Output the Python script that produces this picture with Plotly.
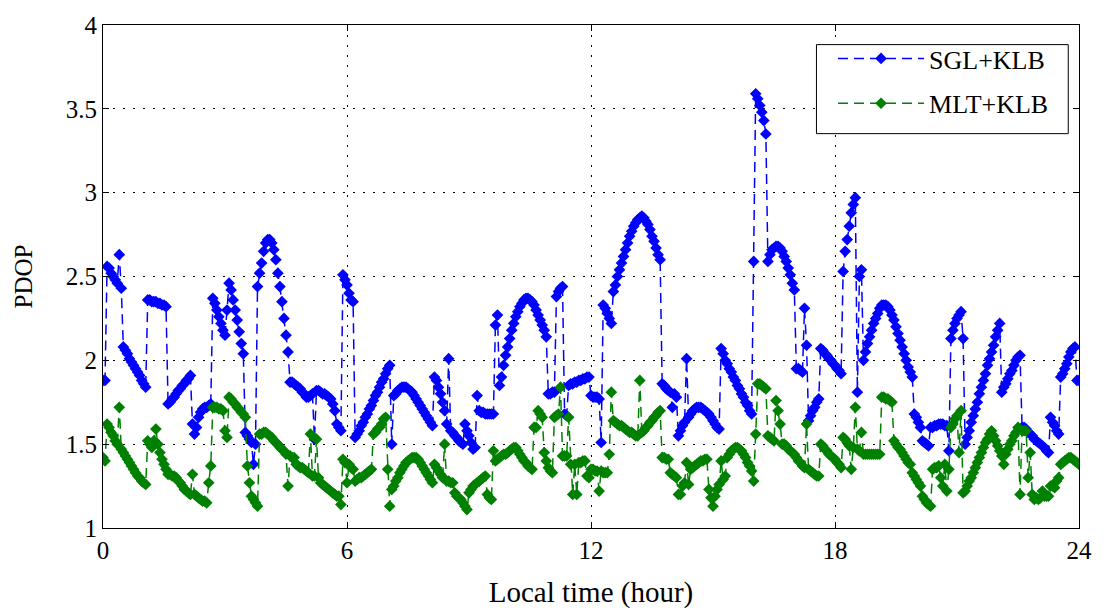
import plotly.graph_objects as go

# Sampling grid: every 0.05 hour (3 min) over a day -> 481 samples
HOURS = [round(i * 0.05, 2) for i in range(481)]

# PDOP; one row per hour (h.00, h.05, ..., h.95), final value at 24.00
SGL_KLB = [
    1.88, 1.88, 2.56, 2.55, 2.52, 2.50, 2.48, 2.46, 2.63, 2.43, 2.08, 2.06, 2.04, 2.01, 1.99, 1.97, 1.95, 1.93, 1.91, 1.88,  # 0
    1.86, 1.84, 2.36, 2.36, 2.35, 2.35, 2.35, 2.34, 2.34, 2.33, 2.33, 2.32, 1.74, 1.75, 1.77, 1.78, 1.80, 1.82, 1.83, 1.85,  # 1
    1.86, 1.88, 1.89, 1.91, 1.62, 1.56, 1.60, 1.66, 1.69, 1.71, 1.72, 1.72, 1.73, 1.74, 2.37, 2.34, 2.30, 2.26, 2.22, 2.18,  # 2
    2.15, 2.30, 2.46, 2.42, 2.36, 2.30, 2.24, 2.17, 2.10, 2.04, 1.57, 1.55, 1.53, 1.51, 1.38, 1.50, 2.44, 2.52, 2.58, 2.65,  # 3
    2.70, 2.72, 2.72, 2.70, 2.66, 2.60, 2.52, 2.44, 2.35, 2.25, 2.15, 2.05, 1.87, 1.87, 1.86, 1.85, 1.84, 1.83, 1.81, 1.80,  # 4
    1.78, 1.78, 1.79, 1.80, 1.53, 1.82, 1.82, 1.81, 1.80, 1.80, 1.79, 1.78, 1.77, 1.74, 1.70, 1.62, 1.60, 1.58, 2.51, 2.48,  # 5
    2.45, 2.40, 2.36, 2.35, 1.54, 1.56, 1.58, 1.61, 1.63, 1.66, 1.68, 1.71, 1.73, 1.76, 1.79, 1.81, 1.84, 1.87, 1.89, 1.92,  # 6
    1.95, 1.97, 1.50, 1.79, 1.80, 1.82, 1.83, 1.84, 1.84, 1.84, 1.83, 1.82, 1.81, 1.79, 1.77, 1.75, 1.73, 1.71, 1.69, 1.67,  # 7
    1.65, 1.63, 1.61, 1.90, 1.88, 1.84, 1.80, 1.75, 1.70, 1.62, 2.01, 1.58, 1.57, 1.55, 1.54, 1.52, 1.51, 1.50, 1.62, 1.58,  # 8
    1.55, 1.51, 1.47, 1.48, 1.79, 1.70, 1.69, 1.69, 1.68, 1.68, 1.68, 1.68, 1.68, 2.21, 2.27, 1.85, 1.90, 1.97, 2.03, 2.08,  # 9
    2.13, 2.18, 2.22, 2.26, 2.29, 2.32, 2.34, 2.36, 2.37, 2.37, 2.36, 2.35, 2.33, 2.30, 2.27, 2.24, 2.21, 2.18, 2.14, 1.80,  # 10
    1.80, 1.81, 1.81, 2.38, 2.41, 2.43, 2.44, 1.68, 1.67, 1.85, 1.86, 1.86, 1.87, 1.87, 1.88, 1.88, 1.89, 1.89, 1.90, 1.90,  # 11
    1.79, 1.78, 1.78, 1.78, 1.77, 1.51, 2.33, 2.31, 2.28, 2.25, 2.22, 2.41, 2.45, 2.50, 2.54, 2.58, 2.62, 2.66, 2.70, 2.74,  # 12
    2.77, 2.80, 2.82, 2.84, 2.85, 2.86, 2.85, 2.83, 2.81, 2.78, 2.74, 2.71, 2.67, 2.63, 2.60, 1.86, 1.85, 1.83, 1.82, 1.81,  # 13
    1.72, 1.80, 1.78, 1.55, 1.58, 1.61, 1.63, 2.01, 1.66, 1.68, 1.70, 1.71, 1.72, 1.72, 1.72, 1.71, 1.70, 1.69, 1.68, 1.66,  # 14
    1.64, 1.62, 1.60, 1.59, 2.07, 2.04, 2.00, 1.98, 1.95, 1.93, 1.90, 1.88, 1.85, 1.83, 1.80, 1.78, 1.75, 1.73, 1.70, 1.68,  # 15
    2.59, 3.59, 3.56, 3.52, 3.48, 3.43, 3.35, 2.59, 2.63, 2.66, 2.67, 2.68, 2.68, 2.67, 2.65, 2.62, 2.59, 2.55, 2.51, 2.46,  # 16
    2.42, 1.95, 1.95, 1.94, 1.93, 2.31, 2.09, 1.64, 1.67, 1.70, 1.72, 1.75, 1.77, 2.07, 2.06, 2.04, 2.03, 2.01, 2.00, 1.98,  # 17
    1.97, 1.95, 1.94, 1.92, 2.53, 2.65, 2.72, 2.80, 2.88, 2.93, 2.97, 1.81, 2.50, 2.54, 2.00, 2.05, 2.10, 2.14, 2.18, 2.22,  # 18
    2.25, 2.28, 2.31, 2.33, 2.33, 2.33, 2.32, 2.30, 2.27, 2.24, 2.20, 2.16, 2.12, 2.08, 2.04, 2.00, 1.96, 1.93, 1.90, 1.68,  # 19
    1.66, 1.63, 1.60, 1.52, 1.51, 1.50, 1.49, 1.60, 1.60, 1.61, 1.61, 1.62, 1.62, 1.62, 1.61, 1.61, 1.46, 2.13, 2.18, 2.22,  # 20
    2.25, 2.27, 2.29, 2.13, 1.50, 1.54, 1.58, 1.63, 1.67, 1.71, 1.75, 1.80, 1.84, 1.88, 1.92, 1.97, 2.01, 2.05, 2.09, 2.14,  # 21
    2.18, 2.22, 1.81, 1.84, 1.86, 1.89, 1.92, 1.94, 1.97, 2.00, 2.02, 2.03, 1.60, 1.60, 1.59, 1.57, 1.56, 1.55, 1.53, 1.52,  # 22
    1.51, 1.50, 1.49, 1.48, 1.46, 1.45, 1.66, 1.63, 1.61, 1.58, 1.56, 1.90, 1.92, 1.95, 1.98, 2.02, 2.05, 2.07, 2.08, 1.88,  # 23
    1.88,
]

MLT_KLB = [
    1.42, 1.40, 1.62, 1.60, 1.57, 1.55, 1.52, 1.50, 1.72, 1.47, 1.45, 1.43, 1.41, 1.39, 1.37, 1.35, 1.33, 1.31, 1.30, 1.28,  # 0
    1.27, 1.26, 1.52, 1.50, 1.48, 1.52, 1.59, 1.50, 1.45, 1.41, 1.38, 1.35, 1.32, 1.32, 1.31, 1.31, 1.30, 1.28, 1.27, 1.25,  # 1
    1.23, 1.22, 1.21, 1.20, 1.32, 1.20, 1.19, 1.18, 1.17, 1.16, 1.16, 1.15, 1.27, 1.37, 1.72, 1.72, 1.72, 1.71, 1.71, 1.70,  # 2
    1.58, 1.54, 1.78, 1.77, 1.75, 1.74, 1.72, 1.71, 1.69, 1.68, 1.66, 1.37, 1.27, 1.19, 1.17, 1.15, 1.13, 1.56, 1.56, 1.57,  # 3
    1.57, 1.56, 1.55, 1.54, 1.52, 1.51, 1.50, 1.48, 1.47, 1.46, 1.44, 1.25, 1.43, 1.42, 1.42, 1.38, 1.37, 1.36, 1.36, 1.35,  # 4
    1.34, 1.33, 1.56, 1.31, 1.31, 1.53, 1.30, 1.27, 1.26, 1.25, 1.24, 1.23, 1.22, 1.21, 1.20, 1.19, 1.19, 1.14, 1.41, 1.39,  # 5
    1.27, 1.38, 1.36, 1.35, 1.28, 1.29, 1.30, 1.30, 1.31, 1.32, 1.33, 1.34, 1.35, 1.56, 1.57, 1.59, 1.60, 1.62, 1.65, 1.66,  # 6
    1.35, 1.13, 1.23, 1.25, 1.28, 1.30, 1.33, 1.35, 1.37, 1.39, 1.40, 1.41, 1.42, 1.42, 1.42, 1.41, 1.39, 1.37, 1.35, 1.33,  # 7
    1.31, 1.29, 1.27, 1.38, 1.36, 1.34, 1.32, 1.30, 1.50, 1.28, 1.28, 1.27, 1.27, 1.21, 1.19, 1.18, 1.17, 1.15, 1.13, 1.11,  # 8
    1.21, 1.23, 1.25, 1.26, 1.27, 1.28, 1.29, 1.30, 1.31, 1.20, 1.18, 1.17, 1.46, 1.40, 1.41, 1.42, 1.43, 1.44, 1.44, 1.45,  # 9
    1.46, 1.47, 1.48, 1.48, 1.46, 1.44, 1.42, 1.40, 1.39, 1.37, 1.36, 1.35, 1.60, 1.60, 1.70, 1.68, 1.66, 1.45, 1.40, 1.36,  # 10
    1.34, 1.33, 1.66, 1.67, 1.68, 1.84, 1.43, 1.43, 1.43, 1.66, 1.38, 1.20, 1.38, 1.20, 1.39, 1.39, 1.40, 1.40, 1.31, 1.30,  # 11
    1.35, 1.35, 1.34, 1.34, 1.22, 1.34, 1.33, 1.33, 1.33, 1.44, 1.81, 1.64, 1.63, 1.62, 1.61, 1.61, 1.60, 1.59, 1.58, 1.57,  # 12
    1.57, 1.56, 1.55, 1.55, 1.88, 1.57, 1.58, 1.60, 1.61, 1.63, 1.64, 1.66, 1.67, 1.69, 1.70, 1.42, 1.42, 1.41, 1.41, 1.33,  # 13
    1.32, 1.31, 1.30, 1.20, 1.20, 1.25, 1.27, 1.39, 1.26, 1.35, 1.36, 1.37, 1.38, 1.39, 1.40, 1.40, 1.41, 1.41, 1.23, 1.18,  # 14
    1.13, 1.19, 1.23, 1.26, 1.40, 1.29, 1.31, 1.42, 1.44, 1.46, 1.47, 1.48, 1.48, 1.47, 1.46, 1.44, 1.42, 1.39, 1.37, 1.34,  # 15
    1.28, 1.56, 1.86, 1.86, 1.85, 1.84, 1.83, 1.55, 1.54, 1.53, 1.52, 1.76, 1.70, 1.62, 1.50, 1.50, 1.49, 1.47, 1.46, 1.45,  # 16
    1.44, 1.42, 1.40, 1.39, 1.37, 1.36, 1.62, 1.35, 1.34, 1.33, 1.32, 1.31, 1.31, 1.50, 1.49, 1.47, 1.46, 1.44, 1.43, 1.42,  # 17
    1.41, 1.39, 1.38, 1.36, 1.54, 1.53, 1.51, 1.49, 1.35, 1.48, 1.72, 1.47, 1.46, 1.57, 1.44, 1.44, 1.44, 1.44, 1.44, 1.44,  # 18
    1.44, 1.44, 1.44, 1.78, 1.78, 1.77, 1.77, 1.76, 1.75, 1.52, 1.50, 1.48, 1.47, 1.45, 1.43, 1.41, 1.39, 1.38, 1.33, 1.31,  # 19
    1.29, 1.27, 1.25, 1.19, 1.17, 1.15, 1.14, 1.13, 1.35, 1.36, 1.36, 1.37, 1.30, 1.25, 1.38, 1.22, 1.35, 1.60, 1.62, 1.65,  # 20
    1.67, 1.45, 1.70, 1.21, 1.22, 1.25, 1.28, 1.30, 1.33, 1.36, 1.39, 1.42, 1.45, 1.48, 1.51, 1.53, 1.56, 1.58, 1.55, 1.52,  # 21
    1.49, 1.46, 1.43, 1.38, 1.44, 1.47, 1.50, 1.52, 1.55, 1.57, 1.60, 1.20, 1.58, 1.58, 1.58, 1.30, 1.45, 1.20, 1.17, 1.18,  # 22
    1.17, 1.18, 1.22, 1.19, 1.19, 1.19, 1.25, 1.25, 1.24, 1.28, 1.30, 1.38, 1.39, 1.40, 1.41, 1.42, 1.42, 1.41, 1.40, 1.39,  # 23
    1.38,
]

assert len(SGL_KLB) == len(HOURS), len(SGL_KLB)
assert len(MLT_KLB) == len(HOURS), len(MLT_KLB)

X_TICKS = [0, 6, 12, 18, 24]
Y_TICKS = [1, 1.5, 2, 2.5, 3, 3.5, 4]
Y_TICK_TEXT = ["1", "1.5", "2", "2.5", "3", "3.5", "4"]

SERIF = "Liberation Serif, Times New Roman, serif"

fig = go.Figure()
fig.add_trace(go.Scatter(
    x=HOURS, y=SGL_KLB, mode="lines+markers", name="SGL+KLB",
    legendgroup="a",
    line=dict(color="#0000FF", width=1.5, dash="10px,6px"),
    marker=dict(symbol="diamond", size=9, color="#0000FF"),
))
fig.add_trace(go.Scatter(
    x=HOURS, y=MLT_KLB, mode="lines+markers", name="MLT+KLB",
    legendgroup="b",
    line=dict(color="#008000", width=1.5, dash="10px,6px"),
    marker=dict(symbol="diamond", size=9, color="#008000"),
))

axis_common = dict(
    showline=True, linecolor="black", linewidth=1, mirror="ticks",
    ticks="inside", ticklen=6, tickcolor="black", tickwidth=1,
    showgrid=True, gridcolor="black", gridwidth=1, griddash="2px,8px",
    zeroline=False, tickfont=dict(family=SERIF, size=25, color="black"),
)

# legend frame (white box with black border, as in the reference)
fig.add_shape(type="rect", xref="paper", yref="paper",
              x0=0.731, x1=0.989, y0=0.784, y1=0.961,
              line=dict(color="black", width=1), fillcolor="white", layer="above")

fig.update_layout(
    width=1104, height=614,
    margin=dict(l=103, r=16, t=23, b=82),
    paper_bgcolor="white", plot_bgcolor="white",
    font=dict(family=SERIF, color="black"),
    xaxis=dict(range=[0, 24], tickvals=X_TICKS,
               title=dict(text="Local time (hour)", font=dict(family=SERIF, size=29), standoff=18),
               **axis_common),
    yaxis=dict(range=[1, 4], tickvals=Y_TICKS, ticktext=Y_TICK_TEXT,
               title=dict(text="PDOP", font=dict(family=SERIF, size=25), standoff=26),
               **axis_common),
    legend=dict(x=0.748, y=0.980, xanchor="left", yanchor="top",
                bgcolor="rgba(0,0,0,0)", borderwidth=0,
                font=dict(family=SERIF, size=26, color="black"),
                itemwidth=86, traceorder="grouped", tracegroupgap=8),
    showlegend=True,
)

fig.write_html("out.html")
